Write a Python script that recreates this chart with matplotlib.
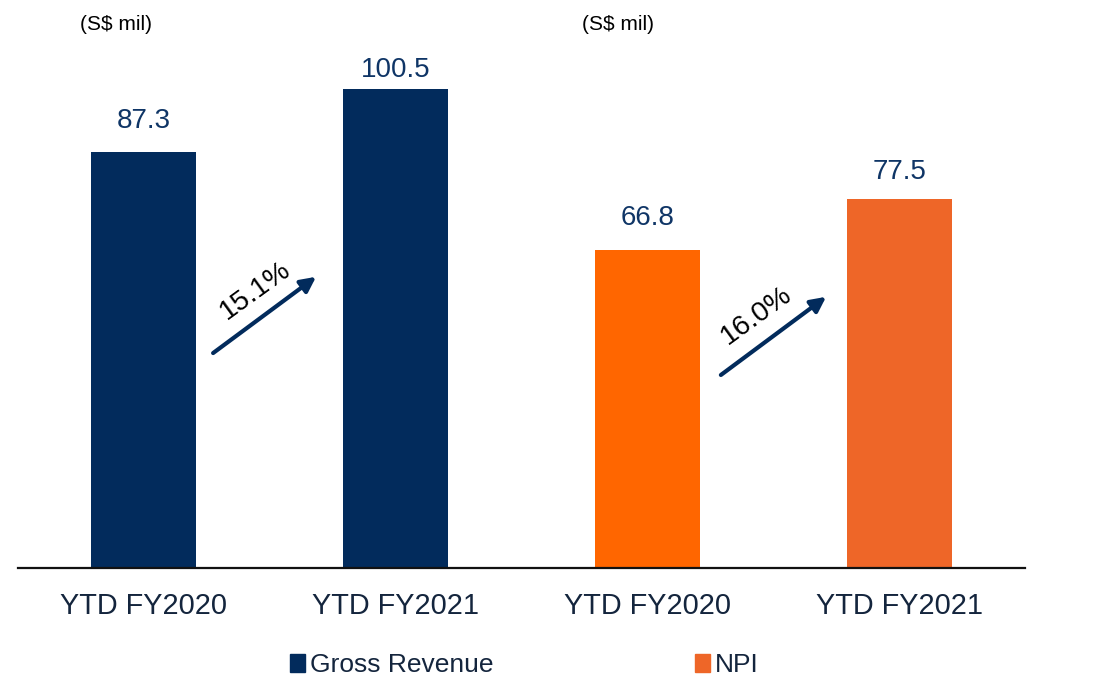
import numpy as np
import matplotlib.pyplot as plt
from matplotlib.patches import Patch

plt.rcParams['font.family'] = ['Liberation Sans', 'DejaVu Sans']

categories = ["YTD FY2020", "YTD FY2021", "YTD FY2020", "YTD FY2021"]
values = [87.3, 100.5, 66.8, 77.5]
value_labels = ["87.3", "100.5", "66.8", "77.5"]
growth_labels = ["15.1%", "16.0%"]
legend_labels = ["Gross Revenue", "NPI"]

navy = "#022b5c"
orange = "#ff6600"
orange2 = "#ee6628"
bar_colors = [navy, navy, orange, orange2]
label_color = "#0f3566"
tick_color = "#14253d"

W, H = 1099, 674
fig = plt.figure(figsize=(W / 100, H / 100), dpi=100)

ymax = 118
px_per_unit = 4.766
base_px = 568
ax = fig.add_axes([18 / W, (H - base_px) / H, 1007 / W, ymax * px_per_unit / H])

x = np.arange(len(categories))
ax.bar(x, values, width=0.417, color=bar_colors)
ax.set_xlim(-0.5, 3.5)
ax.set_ylim(0, ymax)

# gap (points) between bar top and the label baseline
label_gaps = [17.3, 8.6, 18.0, 14.4]
for xi, v, lab, gap in zip(x, values, value_labels, label_gaps):
    ax.annotate(lab, (xi, v), xytext=(0, gap), textcoords="offset points",
                ha="center", va="baseline", fontsize=20, color=label_color)

for s in ["top", "right", "left"]:
    ax.spines[s].set_visible(False)
ax.spines["bottom"].set_linewidth(1.6)
ax.spines["bottom"].set_color("#111111")
ax.set_yticks([])
ax.set_xticks(x)
ax.set_xticklabels(categories, fontsize=20.8, color=tick_color)
ax.tick_params(axis="x", length=0, pad=17)

# growth arrows between the bar pairs
arrows = [((0.275, 45.1), (0.684, 61.1)), ((2.292, 40.5), (2.71, 56.9))]
text_pos = [(0.441, 58.3), (2.435, 52.9)]
for (tail, head), (tx, ty), g in zip(arrows, text_pos, growth_labels):
    ax.annotate("", xy=head, xytext=tail,
                arrowprops=dict(arrowstyle="-|>,head_length=0.9,head_width=0.45",
                                lw=3, color=navy, shrinkA=0, shrinkB=0))
    ax.text(tx, ty, g, rotation=36, rotation_mode="anchor", ha="center",
            va="center", fontsize=20.5, color="black")

fig.text(80 / W, 1 - 24 / H, "(S$ mil)", fontsize=15, va="center", ha="left", color="black")
fig.text(582 / W, 1 - 24 / H, "(S$ mil)", fontsize=15, va="center", ha="left", color="black")

handles = [Patch(color=navy), Patch(color=orange2)]
fig.legend(handles, legend_labels, loc="center left", bbox_to_anchor=(277 / W, 1 - 665 / H),
           ncol=2, frameon=False, fontsize=19, handlelength=0.55, handleheight=0.65,
           handletextpad=0.2, columnspacing=7.65, borderpad=0, labelcolor=tick_color)

fig.savefig("out.png", dpi=100)
